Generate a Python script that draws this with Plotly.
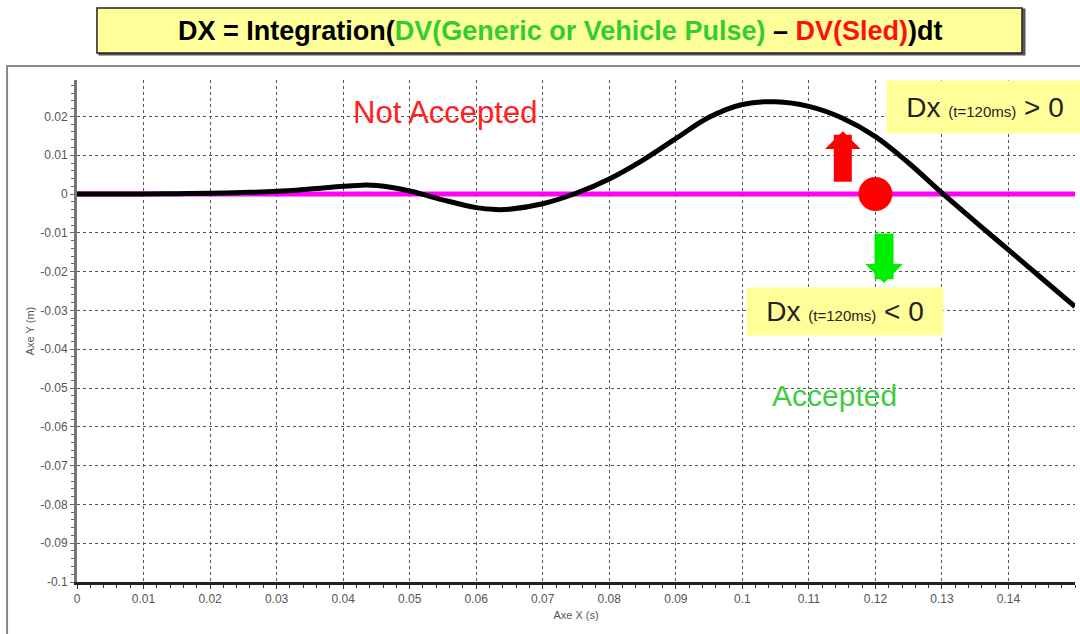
import plotly.graph_objects as go

# ---- data ----
time_s = [0, 0.005, 0.01, 0.015, 0.02, 0.025, 0.03, 0.035, 0.04, 0.043, 0.045, 0.05,
          0.055, 0.06, 0.063, 0.065, 0.07, 0.075, 0.08, 0.085, 0.09, 0.095, 0.1,
          0.105, 0.11, 0.115, 0.12, 0.125, 0.13, 0.135, 0.14, 0.145, 0.15]
dx_m = [0, 0, 0, 0.0001, 0.0002, 0.0004, 0.0007, 0.0013, 0.0020, 0.0023, 0.0022, 0.0008,
        -0.0015, -0.0035, -0.0040, -0.0039, -0.0025, 0.0002, 0.0039, 0.0087, 0.0143, 0.0198, 0.0231,
        0.0238, 0.0226, 0.0196, 0.0148, 0.0080, 0.0003, -0.0071, -0.0144, -0.0217, -0.0290]
zero_x = [0, 0.15]
zero_y = [0, 0]
check_x = [0.12]
check_y = [0]

x_tickvals = [0, 0.01, 0.02, 0.03, 0.04, 0.05, 0.06, 0.07, 0.08, 0.09, 0.1, 0.11, 0.12, 0.13, 0.14]
x_ticktext = ["0", "0.01", "0.02", "0.03", "0.04", "0.05", "0.06", "0.07", "0.08", "0.09",
              "0.1", "0.11", "0.12", "0.13", "0.14"]
y_tickvals = [0.02, 0.01, 0, -0.01, -0.02, -0.03, -0.04, -0.05, -0.06, -0.07, -0.08, -0.09, -0.1]
y_ticktext = ["0.02", "0.01", "0", "-0.01", "-0.02", "-0.03", "-0.04", "-0.05", "-0.06",
              "-0.07", "-0.08", "-0.09", "-0.1"]

fig = go.Figure()
fig.add_trace(go.Scatter(x=zero_x, y=zero_y, mode="lines",
                         line=dict(color="#FF00FF", width=5), showlegend=False))
fig.add_trace(go.Scatter(x=time_s, y=dx_m, mode="lines", line_shape="spline",
                         line=dict(color="black", width=5), showlegend=False))
fig.add_trace(go.Scatter(x=check_x, y=check_y, mode="markers",
                         marker=dict(color="#FF0000", size=34), showlegend=False))

# outer frame and title box (paper coords)
fig.add_shape(type="rect", xref="paper", yref="paper", x0=-0.0701, x1=1.02, y0=-0.12, y1=1.0279,
              line=dict(color="#8a8a8a", width=2), fillcolor="rgba(0,0,0,0)", layer="below")
fig.add_shape(type="rect", xref="paper", yref="paper", x0=0.0225, x1=0.9494, y0=1.0508, y1=1.1404,
              line=dict(color="#555555", width=2), fillcolor="#666666")
fig.add_shape(type="rect", xref="paper", yref="paper", x0=0.02, x1=0.9469, y0=1.0538, y1=1.1434,
              line=dict(color="#222222", width=1.5), fillcolor="#FFFF99")

title_html = ("<b>DX = Integration(<span style='color:#33CC33'>DV(Generic or Vehicle Pulse)</span>"
              " – <span style='color:#FF1010'>DV(Sled)</span>)dt</b>")
fig.add_annotation(text=title_html, xref="paper", yref="paper", x=0.4835, y=1.0986,
                   xanchor="center", yanchor="middle",
                   showarrow=False, font=dict(family="Arial", size=27, color="black"))

fig.add_annotation(text="Not Accepted", xref="paper", yref="paper", x=0.3687, y=0.9343,
                   xanchor="center", yanchor="middle",
                   showarrow=False, font=dict(family="Arial", size=31, color="#FF2020"))
fig.add_annotation(text="Accepted", xref="paper", yref="paper", x=0.7595, y=0.3725,
                   xanchor="center", yanchor="middle",
                   showarrow=False, font=dict(family="Arial", size=30, color="#40CC40"))

fig.add_annotation(text="Dx <span style='font-size:15px'>(t=120ms)</span> &gt; 0",
                   xref="paper", yref="paper", x=0.9098, y=0.9462, showarrow=False,
                   xanchor="center", yanchor="middle",
                   width=194, height=50, bgcolor="#FFFF99", valign="middle",
                   font=dict(family="Arial", size=28, color="#222222"))
fig.add_annotation(text="Dx <span style='font-size:15px'>(t=120ms)</span> &lt; 0",
                   xref="paper", yref="paper", x=0.7695, y=0.5388, showarrow=False,
                   xanchor="center", yanchor="middle",
                   width=194, height=45, bgcolor="#FFFF99", valign="middle",
                   font=dict(family="Arial", size=28, color="#222222"))

# arrows next to the check point
fig.add_annotation(x=check_x[0] - 0.0049, y=0.0162, xref="x", yref="y", text="",
                   showarrow=True, ax=0, ay=52, arrowhead=1, arrowsize=0.33,
                   arrowwidth=18, arrowcolor="#FF0000", standoff=0)
fig.add_annotation(x=check_x[0] + 0.0013, y=-0.0229, xref="x", yref="y", text="",
                   showarrow=True, ax=0, ay=-51, arrowhead=1, arrowsize=0.33,
                   arrowwidth=19, arrowcolor="#00EE00", standoff=0)

fig.update_xaxes(range=[0, 0.15], tickvals=x_tickvals, ticktext=x_ticktext,
                 showgrid=True, gridcolor="#555555", griddash="dot", gridwidth=1,
                 showline=True, linecolor="#222222", linewidth=3,
                 ticks="outside", ticklen=4, tickcolor="#333333",
                 minor=dict(dtick=0.002, ticks="outside", ticklen=3, tickcolor="#333333", showgrid=False),
                 tickfont=dict(family="Arial", size=12, color="#555555"),
                 title=dict(text="Axe X (s)", font=dict(family="Arial", size=11, color="#555555"),
                            standoff=6),
                 automargin=False, zeroline=False, mirror=False)
fig.update_yaxes(range=[-0.1, 0.0294], tickvals=y_tickvals, ticktext=y_ticktext,
                 showgrid=True, gridcolor="#555555", griddash="dot", gridwidth=1,
                 showline=True, linecolor="#777777", linewidth=3,
                 ticks="outside", ticklen=4, tickcolor="#666666",
                 minor=dict(dtick=0.002, ticks="outside", ticklen=3, tickcolor="#666666", showgrid=False),
                 tickfont=dict(family="Arial", size=12, color="#555555"),
                 title=dict(text="Axe Y (m)", font=dict(family="Arial", size=11, color="#555555"),
                            standoff=4),
                 automargin=False, zeroline=False)

fig.update_layout(width=1080, height=634, margin=dict(l=77, r=5, t=80, b=52),
                  paper_bgcolor="white", plot_bgcolor="white", showlegend=False)

fig.write_html("out.html", config={"displayModeBar": False},
               post_script="document.body.style.margin='0px';document.body.style.overflow='hidden';")
